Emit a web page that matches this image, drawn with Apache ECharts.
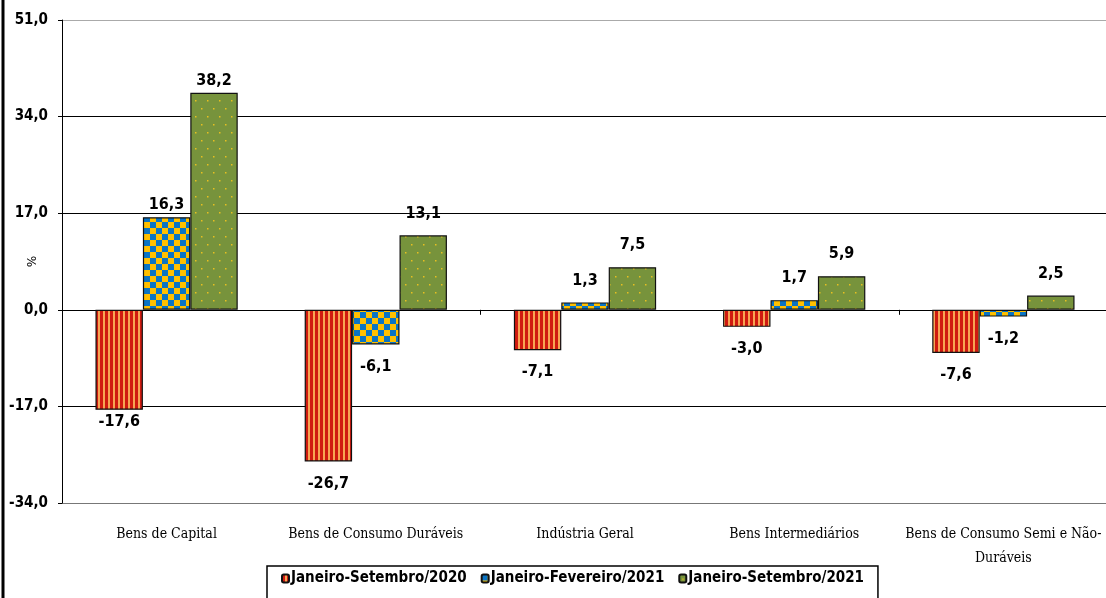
<!DOCTYPE html>
<html>
<head>
<meta charset="utf-8">
<script src="https://cdn.jsdelivr.net/npm/echarts@6/dist/echarts.min.js"></script>
<style>
  html, body { margin: 0; padding: 0; background: #fff; }
  #main { width: 1106px; height: 598px; }
</style>
</head>
<body>
<div id="main"></div>
<script>
// categorias e valores (%)
var categories = ['Bens de Capital', 'Bens de Consumo Duráveis', 'Indústria Geral', 'Bens Intermediários', 'Bens de Consumo Semi e Não-\nDuráveis'];
var seriesNames = ['Janeiro-Setembro/2020', 'Janeiro-Fevereiro/2021', 'Janeiro-Setembro/2021'];
var jan_set_2020 = [-17.6, -26.7, -7.1, -3.0, -7.6];
var jan_fev_2021 = [16.3, -6.1, 1.3, 1.7, -1.2];
var jan_set_2021 = [38.2, 13.1, 7.5, 5.9, 2.5];
var yTicks = [-34, -17, 0, 17, 34, 51];

// padrões de preenchimento (tipo Excel)
function makePattern(w, h, draw) {
  var c = document.createElement('canvas');
  c.width = w; c.height = h;
  draw(c.getContext('2d'));
  return c;
}
var stripes = makePattern(5, 5, function (ctx) {
  ctx.fillStyle = '#D01A10'; ctx.fillRect(0, 0, 5, 5);
  ctx.fillStyle = '#F7A453'; ctx.fillRect(3, 0, 2, 5);
});
var checker = makePattern(12, 12, function (ctx) {
  ctx.fillStyle = '#FFC000'; ctx.fillRect(0, 0, 12, 12);
  ctx.fillStyle = '#0A74C4'; ctx.fillRect(0, 0, 6, 6); ctx.fillRect(6, 6, 6, 6);
});
var dots = makePattern(12, 16, function (ctx) {
  ctx.fillStyle = '#77933C'; ctx.fillRect(0, 0, 12, 16);
  ctx.fillStyle = '#E8C020'; ctx.fillRect(3, 4, 1.5, 1.5); ctx.fillRect(9, 12, 1.5, 1.5);
});
var fills = [stripes, checker, dots];

function fmt(v) { return v.toFixed(1).replace('.', ','); }

function buildData(values) {
  return values.map(function (v, i) {
    return {
      value: v,
      label: { position: v < 0 ? 'bottom' : 'top', distance: i === 0 ? 4 : 14 }
    };
  });
}

var allValues = [jan_set_2020, jan_fev_2021, jan_set_2021];

var myChart = echarts.init(document.getElementById('main'));
var option = {
  backgroundColor: '#fff',
  animation: false,
  grid: { left: 62, right: -2, top: 20, bottom: 95, outerBoundsMode: 'none', containLabel: false },
  legend: {
    left: 267, top: 566,
    data: seriesNames,
    itemWidth: 7, itemHeight: 8, itemGap: 14,
    padding: [5, 14, 14, 14],
    borderColor: '#000', borderWidth: 1.5, backgroundColor: '#fff',
    textStyle: { fontFamily: 'DejaVu Sans Condensed', fontWeight: 'bold', fontSize: 15, color: '#000', padding: [0, 0, 0, -3] }
  },
  xAxis: [
    {
      type: 'category',
      data: categories,
      axisLine: { show: false, onZero: false },
      axisTick: { show: false },
      axisLabel: {
        margin: 19, interval: 0, color: '#000',
        fontFamily: 'DejaVu Serif Condensed', fontSize: 14, lineHeight: 24
      }
    },
    {
      type: 'category',
      data: categories,
      position: 'bottom',
      axisLine: { show: true, onZero: true, lineStyle: { color: '#000', width: 1 } },
      axisTick: { show: true, length: 5, lineStyle: { color: '#000' } },
      axisLabel: { show: false }
    }
  ],
  yAxis: {
    type: 'value',
    min: yTicks[0], max: yTicks[yTicks.length - 1], interval: 17,
    name: '%', nameLocation: 'middle', nameGap: 26, nameRotate: -90, nameMoveOverlap: false,
    nameTextStyle: { fontFamily: 'DejaVu Sans', fontSize: 12, color: '#000' },
    axisLine: { show: true, lineStyle: { color: '#000', width: 1 } },
    axisTick: { show: true, length: 4, lineStyle: { color: '#000' } },
    axisLabel: {
      formatter: fmt, color: '#000', margin: 14,
      fontFamily: 'DejaVu Sans Condensed', fontWeight: 'bold', fontSize: 15
    },
    splitLine: { show: true, lineStyle: { color: ['#777', '#000', '#000', '#000', '#000', '#aaa'], width: 1.2 } }
  },
  graphic: [
    { type: 'rect', shape: { x: 3, y: -5, width: 1200, height: 700 }, style: { fill: 'none', stroke: '#000', lineWidth: 3 }, silent: true }
  ],
  series: seriesNames.map(function (name, k) {
    return {
      name: name,
      type: 'bar',
      xAxisIndex: 0,
      barGap: '0%',
      barCategoryGap: '32%',
      itemStyle: { color: { image: fills[k], repeat: 'repeat' }, borderColor: '#111', borderWidth: 1.2 },
      label: {
        show: true, formatter: function (p) { return fmt(p.value); },
        color: '#000', fontFamily: 'DejaVu Sans Condensed', fontWeight: 'bold', fontSize: 16
      },
      data: buildData(allValues[k])
    };
  })
};
myChart.setOption(option);
</script>
</body>
</html>
